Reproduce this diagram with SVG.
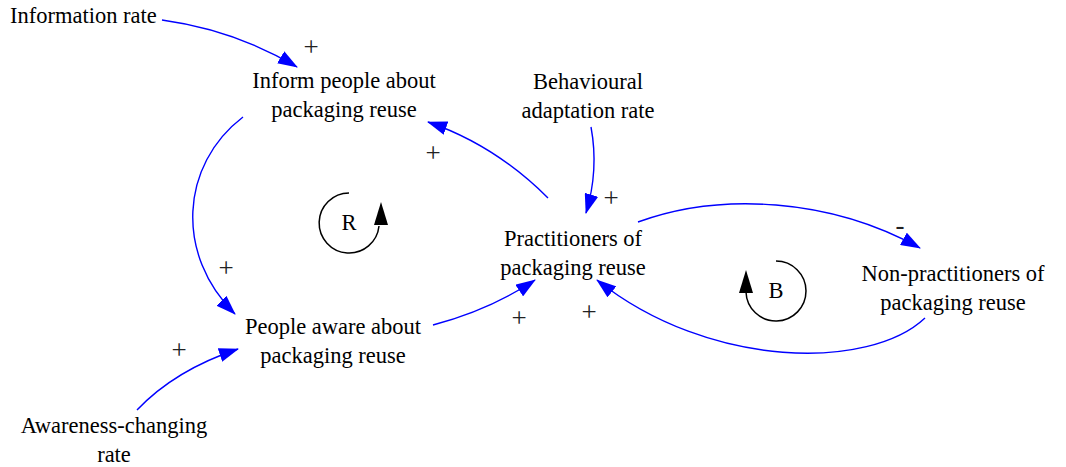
<svg xmlns="http://www.w3.org/2000/svg" width="1066" height="467" viewBox="0 0 1066 467">
<style>
text{font-family:"Liberation Serif","Times New Roman",serif;font-size:22.5px;fill:#000}
.c{text-anchor:middle}
.p{font-size:27px;fill:#222;text-anchor:middle}
.e{fill:none;stroke:#0000ff;stroke-width:1.4;marker-end:url(#ah)}
.loop{fill:none;stroke:#000;stroke-width:1.5}
</style>
<defs>
<marker id="ah" markerUnits="userSpaceOnUse" markerWidth="20" markerHeight="14" viewBox="0 0 20 14" refX="19" refY="7" orient="auto">
<path d="M0,0 L20,7 L0,14 Z" fill="#0000ff"/>
</marker>
</defs>
<g id="connectors">
<path class="e" d="M162,20 Q235,30 297,67"/>
<path class="e" d="M243,117 C180,165 175,255 235,314"/>
<path class="e" d="M548,198 Q495,145 428,122"/>
<path class="e" d="M591,127 Q599,170 586,213"/>
<path class="e" d="M433,325 Q490,310 535,280"/>
<path class="e" d="M638,222 C720,192 830,198 920,248"/>
<path class="e" d="M925,318 C870,370 710,370 597,280"/>
<path class="e" d="M137,410 Q175,370 238,349"/>
</g>
<g id="polarities">
<text class="p" x="311" y="56">+</text>
<text class="p" x="433" y="162">+</text>
<text class="p" x="226" y="277">+</text>
<text class="p" x="611" y="207">+</text>
<text class="p" x="900" y="234">-</text>
<text class="p" x="519" y="327">+</text>
<text class="p" x="589" y="321">+</text>
<text class="p" x="179" y="359">+</text>
</g>
<g id="loop-R">
<path class="loop" d="M349,193 A30,30 0 1 0 379,226"/>
<path d="M381,202 L388,225 L374,225 Z" fill="#000"/>
<text class="c" x="349" y="230">R</text>
</g>
<g id="loop-B">
<path class="loop" d="M776,261 A30,30 0 1 1 746,292"/>
<path d="M746,270 L753,293 L739,293 Z" fill="#000"/>
<text class="c" x="776" y="298">B</text>
</g>
<g id="information-rate"><text x="10" y="23">Information rate</text></g>
<g id="inform-people"><text class="c" x="344" y="88">Inform people about</text><text class="c" x="344" y="117">packaging reuse</text></g>
<g id="behavioural-adaptation-rate"><text class="c" x="588" y="89">Behavioural</text><text class="c" x="588" y="118">adaptation rate</text></g>
<g id="practitioners"><text class="c" x="573" y="246">Practitioners of</text><text class="c" x="573" y="275">packaging reuse</text></g>
<g id="non-practitioners"><text class="c" x="953" y="281">Non-practitioners of</text><text class="c" x="953" y="310">packaging reuse</text></g>
<g id="people-aware"><text class="c" x="333" y="334">People aware about</text><text class="c" x="333" y="363">packaging reuse</text></g>
<g id="awareness-changing-rate"><text class="c" x="114" y="433">Awareness-changing</text><text class="c" x="114" y="462">rate</text></g>
</svg>
